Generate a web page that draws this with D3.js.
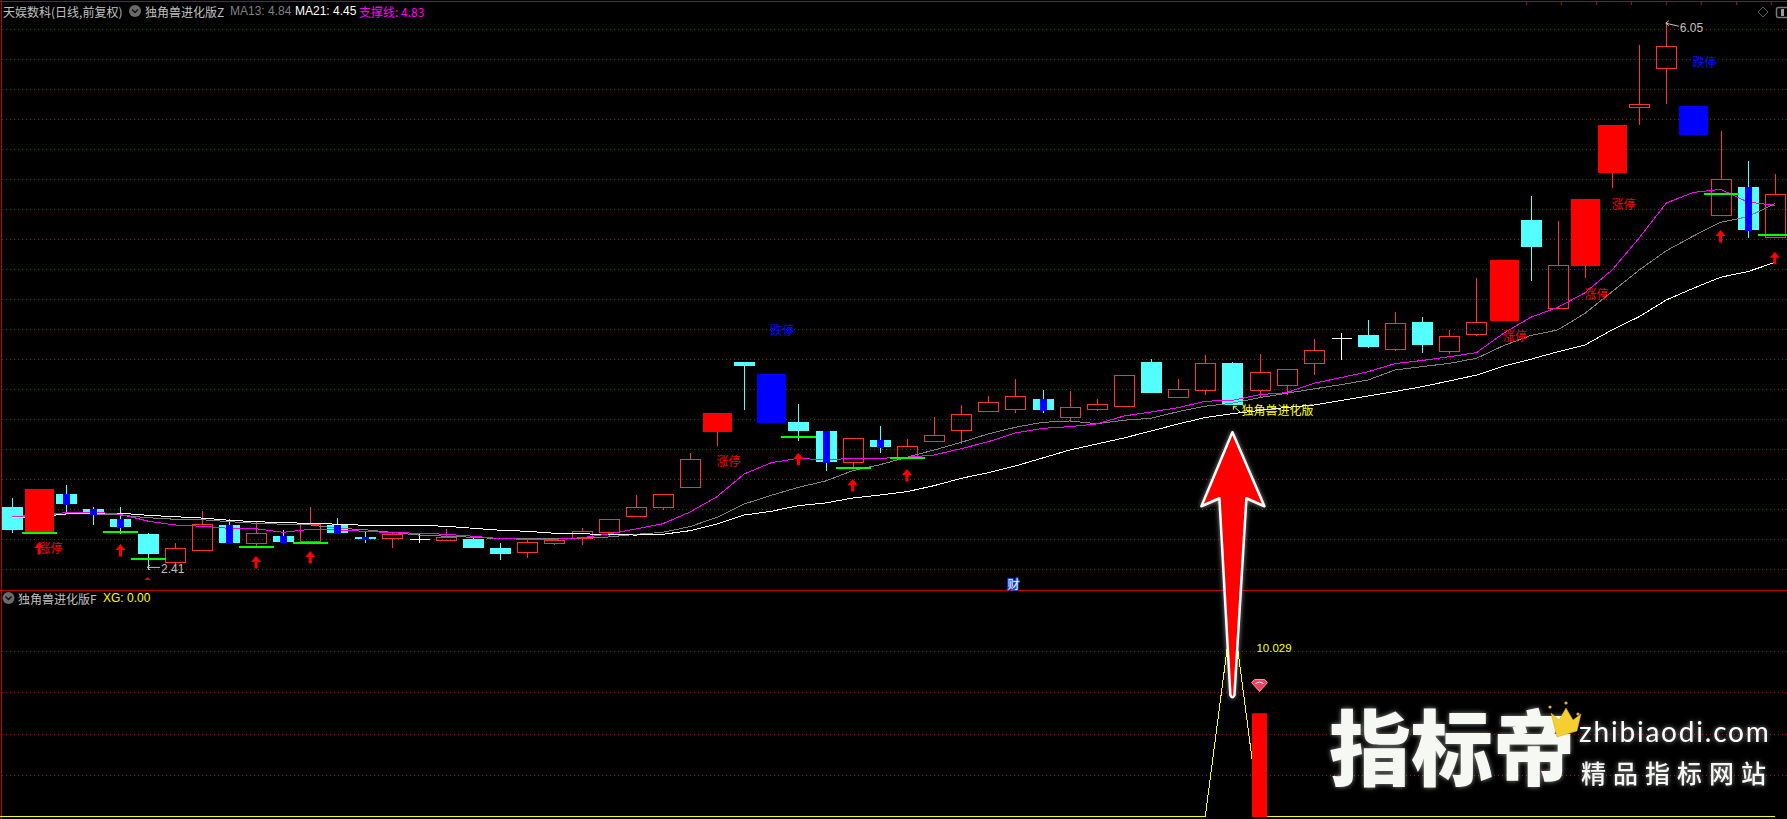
<!DOCTYPE html>
<html><head><meta charset="utf-8">
<script src="https://cdn.jsdelivr.net/npm/d3@7/dist/d3.min.js"></script>
<style>html,body{margin:0;background:#000;overflow:hidden}svg{display:block}</style>
</head><body><svg id="c" width="1787" height="819"></svg>
<script>
const opens=[2.825,2.659,2.912,2.812,2.746,2.646,2.462,2.542,2.706,2.588,2.633,2.602,2.706,2.626,2.621,2.611,2.608,2.613,2.553,2.528,2.588,2.620,2.659,2.768,2.827,2.960,3.324,3.789,3.709,3.390,3.330,3.126,3.271,3.158,3.266,3.339,3.465,3.479,3.543,3.425,3.479,3.498,3.789,3.558,3.605,3.782,3.605,3.638,3.784,3.946,3.968,3.877,4.055,3.864,3.977,4.061,4.732,4.150,4.427,5.045,5.485,5.744,5.490,4.768,4.952,4.621];
const highs=[2.885,2.945,2.972,2.825,2.825,2.653,2.584,2.797,2.746,2.726,2.673,2.825,2.752,2.659,2.651,2.646,2.679,2.626,2.586,2.606,2.608,2.686,2.744,2.905,2.910,3.184,3.450,3.789,3.709,3.510,3.330,3.284,3.364,3.277,3.421,3.503,3.563,3.676,3.603,3.596,3.543,3.700,3.807,3.676,3.835,3.789,3.842,3.740,3.942,3.982,4.068,4.121,4.088,4.002,4.347,4.467,4.892,4.726,4.872,5.364,5.895,6.05,5.490,5.322,5.124,5.038];
const lows=[2.655,2.659,2.792,2.708,2.648,2.41,2.440,2.542,2.582,2.566,2.584,2.593,2.648,2.586,2.553,2.584,2.608,2.553,2.473,2.487,2.573,2.573,2.633,2.768,2.808,2.952,3.231,3.470,3.384,3.264,3.065,3.089,3.184,3.158,3.266,3.244,3.465,3.452,3.450,3.399,3.465,3.490,3.583,3.552,3.570,3.503,3.550,3.570,3.702,3.802,3.882,3.862,3.849,3.844,3.962,4.061,4.327,4.150,4.347,4.945,5.364,5.503,5.297,4.768,4.613,4.621];
const closes=[2.673,2.945,2.843,2.779,2.691,2.513,2.551,2.712,2.586,2.651,2.591,2.711,2.653,2.611,2.646,2.611,2.626,2.553,2.513,2.591,2.606,2.664,2.744,2.823,2.910,3.142,3.450,3.762,3.384,3.330,3.124,3.284,3.224,3.229,3.302,3.441,3.521,3.561,3.470,3.488,3.508,3.700,3.583,3.607,3.780,3.503,3.720,3.740,3.867,3.946,3.889,4.046,3.902,3.960,4.053,4.467,4.553,4.431,4.872,5.364,5.503,5.887,5.297,5.003,4.666,4.903];
const support=[2.761,2.772,2.788,2.792,2.777,2.732,2.706,2.697,2.684,2.681,2.657,2.677,2.673,2.664,2.655,2.651,2.644,2.631,2.615,2.611,2.611,2.621,2.646,2.679,2.714,2.792,2.894,3.045,3.120,3.149,3.138,3.149,3.149,3.156,3.171,3.213,3.259,3.317,3.348,3.359,3.377,3.430,3.457,3.485,3.528,3.534,3.572,3.585,3.647,3.685,3.724,3.778,3.799,3.824,3.851,3.980,4.086,4.152,4.249,4.400,4.613,4.845,4.916,4.936,4.852,4.83];
const ma13=[2.752,2.772,2.779,2.779,2.772,2.754,2.744,2.741,2.728,2.717,2.711,2.706,2.684,2.675,2.657,2.639,2.631,2.624,2.615,2.613,2.613,2.620,2.626,2.644,2.657,2.695,2.757,2.845,2.903,2.956,2.998,3.067,3.106,3.156,3.204,3.255,3.311,3.355,3.388,3.397,3.379,3.402,3.415,3.459,3.495,3.515,3.552,3.581,3.610,3.638,3.669,3.736,3.758,3.780,3.813,3.898,3.965,4.002,4.112,4.256,4.400,4.528,4.626,4.717,4.754,4.84];
const ma21=[2.754,2.761,2.779,2.779,2.784,2.770,2.761,2.752,2.737,2.728,2.721,2.717,2.711,2.704,2.704,2.704,2.697,2.684,2.671,2.664,2.651,2.648,2.641,2.639,2.644,2.668,2.712,2.772,2.797,2.834,2.852,2.885,2.905,2.927,2.967,3.016,3.053,3.098,3.151,3.204,3.244,3.284,3.330,3.377,3.420,3.445,3.467,3.487,3.503,3.533,3.563,3.593,3.625,3.663,3.702,3.762,3.807,3.857,3.902,4.002,4.090,4.201,4.279,4.352,4.389,4.45];
const xg=[0,0,0,0,0,0,0,0,0,0,0,0,0,0,0,0,0,0,0,0,0,0,0,0,0,0,0,0,0,0,0,0,0,0,0,0,0,0,0,0,0,0,0,0,0,10.029,0,0,0,0,0,0,0,0,0,0,0,0,0,0,0,0,0,0,0,0];
const limitUpBars=[1,26,55,58,59];
const limitDownBars=[28,62];
const centreBars=[2,3,4,8,10,12,13,30,32,38,64];
const signalBar=[46], signalValue=[4.966];
const greenBars=[1,4,5,9,11,29,31,33,63,65];
const greenPrices=[2.655,2.659,2.480,2.562,2.588,3.292,3.087,3.149,4.905,4.633];
const arrowBars=[1,4,5,9,11,29,31,33,63,65];
const arrowPrices=[2.593,2.580,2.360,2.500,2.533,3.186,3.011,3.078,4.666,4.522];
const upLabelBars=[1,26,55,58,59];
const upLabelPrices=[2.553,3.131,3.965,4.243,4.839];
const downLabelBars=[28,62];
const downLabelPrices=[4.005,5.786];
const upText="涨停", downText="跌停", xgName="独角兽进化版";

const W=1787,H=819,svg=d3.select("#c");
const CJK='"Noto Sans CJK SC","Liberation Sans",sans-serif';
const LAT='"Liberation Sans","Noto Sans CJK SC",sans-serif';
const x=d3.scaleLinear().domain([0,65]).range([12,1774.8]);
const y=d3.scaleLinear().domain([6.05,2.41]).range([21.7,569.5]);
const yl=d3.scaleLinear().domain([0,10.029]).range([816.5,608]);
const px=i=>Math.round(x(i)), py=p=>Math.round(y(p));
const UP="#ff3232",DN="#54ffff",BL="#0000ff",RD="#ff0000";
const bars=d3.range(66).map(i=>({i,o:opens[i],h:highs[i],l:lows[i],c:closes[i]}));

svg.append("rect").attr("width",W).attr("height",H).attr("fill","#000");
// grid
const grid=svg.append("g").attr("stroke","#b00c0c").attr("stroke-dasharray","1 3").attr("shape-rendering","crispEdges");
d3.range(19).forEach(k=>grid.append("line").attr("x1",2).attr("x2",W).attr("y1",29.5+30*k).attr("y2",29.5+30*k));
d3.range(4).forEach(k=>{const gy=Math.floor(651.5+41.3*k)+.5;grid.append("line").attr("x1",2).attr("x2",W).attr("y1",gy).attr("y2",gy);});
// frame
const fr=svg.append("g").attr("stroke","#c00000").attr("shape-rendering","crispEdges");
fr.append("line").attr("x1",0).attr("x2",W).attr("y1",1.5).attr("y2",1.5);
fr.append("line").attr("x1",0).attr("x2",W).attr("y1",590.5).attr("y2",590.5);
fr.append("line").attr("x1",1.5).attr("x2",1.5).attr("y1",0).attr("y2",H);
d3.range(8).forEach(k=>fr.append("line").attr("x1",1526.5+35*k).attr("x2",1526.5+35*k).attr("y1",1).attr("y2",5));

// wicks + plain bodies
const isUpFill=i=>limitUpBars.includes(i), isDnFill=i=>limitDownBars.includes(i);
const g=svg.append("g").attr("shape-rendering","crispEdges");
bars.filter(b=>!isUpFill(b.i)&&!isDnFill(b.i)).forEach(b=>{
  const doji=b.o===b.c, up=b.c>b.o, col=doji?"#fff":(up?UP:DN), cx=px(b.i)+.5;
  const top=py(Math.max(b.o,b.c)), bot=py(Math.min(b.o,b.c));
  g.append("line").attr("x1",cx).attr("x2",cx).attr("y1",py(b.h)).attr("y2",top).attr("stroke",col);
  g.append("line").attr("x1",cx).attr("x2",cx).attr("y1",bot).attr("y2",py(b.l)).attr("stroke",col);
  if(doji) g.append("line").attr("x1",cx-10).attr("x2",cx+10).attr("y1",top+.5).attr("y2",top+.5).attr("stroke",col);
  else if(up) g.append("rect").attr("x",cx-10).attr("width",20).attr("y",top+.5).attr("height",bot-top).attr("fill","none").attr("stroke",col);
  else g.append("rect").attr("x",cx-10.5).attr("width",21).attr("y",top).attr("height",Math.max(1,bot-top)).attr("fill",col);
});
// moving lines
const line=d3.line().x((d,i)=>x(i)).y(d=>y(d));
[[ma13,"#808080",1],[ma21,"#ffffff",1],[support,"#ff00ff",1]].forEach(([d,c,w])=>svg.append("path").datum(d).attr("d",line).attr("fill","none").attr("stroke",c).attr("stroke-width",w).attr("shape-rendering","crispEdges"));
// limit bars and centres on top
const g2=svg.append("g").attr("shape-rendering","crispEdges");
bars.filter(b=>isUpFill(b.i)||isDnFill(b.i)).forEach(b=>{
  const col=isUpFill(b.i)?RD:BL, cx=px(b.i)+.5, top=py(Math.max(b.o,b.c)), bot=py(Math.min(b.o,b.c));
  g2.append("line").attr("x1",cx).attr("x2",cx).attr("y1",bot).attr("y2",py(b.l)).attr("stroke",isUpFill(b.i)?UP:BL);
  g2.append("rect").attr("x",cx-14.5).attr("width",29).attr("y",top).attr("height",bot-top).attr("fill",col);
});
centreBars.forEach(i=>{const b=bars[i],top=py(b.o),bot=py(b.c)+1;
  g2.append("rect").attr("x",px(i)-3).attr("width",7).attr("y",top).attr("height",bot-top).attr("fill",BL);});
// green marks
greenBars.forEach((i,k)=>g2.append("rect").attr("x",px(i)-17).attr("width",35).attr("y",py(greenPrices[k])-1).attr("height",2).attr("fill","#00ff00"));
// red arrows
arrowBars.forEach((i,k)=>{const tx=x(i),ty=y(arrowPrices[k]);
  if(i===5){svg.append("path").attr("d",`M${tx},${ty}l3,3h-6z`).attr("fill",RD);return;}
  svg.append("path").attr("d",`M${tx},${ty}l5,6h-3.5v6.5h-3v-6.5h-3.5z`).attr("fill",RD);
});
// labels
const cjk=(t,xx,yy,col,anchor="middle",fs=12)=>svg.append("text").attr("x",xx).attr("y",yy).attr("fill",col).attr("font-family",CJK).attr("font-size",fs).attr("text-anchor",anchor).attr("dominant-baseline","central").text(t);
upLabelBars.forEach((i,k)=>cjk(upText,x(i)+11.5,y(upLabelPrices[k]),RD));
downLabelBars.forEach((i,k)=>cjk(downText,x(i)+11,y(downLabelPrices[k]),"#0a0aff"));
// min / max marks
const note=(i,p,t,slant,dy)=>{const a=x(i)-.5,b=y(p);
  svg.append("path").attr("d",`M${a},${b}l3,-2.5M${a},${b}l3,2.5M${a},${b}l13,${slant}`).attr("fill","none").attr("stroke","#c0c0c0");
  svg.append("text").attr("x",a+14).attr("y",b+dy).attr("dominant-baseline","central").attr("fill","#c0c0c0").attr("font-family",LAT).attr("font-size",12).text(t);};
note(5,2.424,"2.41",0,1.5);
note(61,6.04,"6.05",3,4.5);
// XG label on chart
svg.append("path").attr("d",`M${x(45)+1},${y(3.495)}l7,6M${x(45)+1},${y(3.495)}h3.5M${x(45)+1},${y(3.495)}v3.5`).attr("fill","none").attr("stroke","#ffff00");
cjk(xgName,x(45)+9,y(3.475),"#ffff00","start");

// header
const head=(t,xx,yy,col)=>svg.append("text").attr("x",xx).attr("y",yy).attr("fill",col).attr("font-family",CJK).attr("font-size",12).attr("dominant-baseline","central").text(t);
const icon=(cx,cy)=>{svg.append("circle").attr("cx",cx).attr("cy",cy).attr("r",6).attr("fill","#6a6a6a");
  svg.append("path").attr("d",`M${cx-3},${cy-1.5}l3,3l3,-3`).attr("fill","none").attr("stroke","#111").attr("stroke-width",1.5);};
head("天娱数科(日线,前复权)",3,11,"#c0c0c0");
icon(135,11);
head("独角兽进化版Z",145,11,"#c0c0c0");
head("MA13: 4.84",230,11,"#808080").attr("font-family",LAT);
head("MA21: 4.45",295,11,"#ffffff").attr("font-family",LAT);
head("支撑线: 4.83",359,11,"#ff00ff");
icon(8.5,598);
head("独角兽进化版F",18,598,"#c0c0c0");
head("XG: 0.00",103,598,"#ffff00").attr("font-family",LAT);
// top right icons
svg.append("path").attr("d","M1763,7l5,5l-5,5l-5,-5z").attr("fill","none").attr("stroke","#5a5a5a");
svg.append("rect").attr("x",1776.5).attr("y",7.5).attr("width",12).attr("height",10).attr("rx",2).attr("fill","none").attr("stroke","#7a7a7a").attr("stroke-width",1.5);
svg.append("rect").attr("x",1781).attr("y",9).attr("width",3).attr("height",7).attr("fill","#9a9a9a");
// 财 badge
svg.append("text").attr("x",1013.5).attr("y",583).attr("text-anchor","middle").attr("dominant-baseline","central").attr("font-family",CJK).attr("font-size",12).attr("fill","#f0f6ff").attr("stroke","#1f50e0").attr("stroke-width",2).attr("paint-order","stroke").text("财");

// lower panel
svg.append("line").attr("x1",0).attr("x2",x(0)).attr("y1",yl(0)).attr("y2",yl(0)).attr("stroke","#ffff00").attr("shape-rendering","crispEdges");
svg.append("path").datum(xg).attr("d",d3.line().x((d,i)=>x(i)).y(d=>yl(d))).attr("fill","none").attr("stroke","#ffff00").attr("stroke-width",1).attr("shape-rendering","crispEdges");
signalBar.forEach((i,k)=>svg.append("rect").attr("x",px(i)-8).attr("width",15).attr("y",yl(signalValue[k])).attr("height",yl(0)-yl(signalValue[k])+.5).attr("fill",RD));
svg.append("text").attr("x",x(45)+24).attr("y",yl(8.1)).attr("dominant-baseline","central").attr("fill","#ffff00").attr("font-family",LAT).attr("font-size",11.5).text("10.029");
// gem
const gx=x(46),gy=yl(6.3);
svg.append("path").attr("d",`M${gx-8},${gy-3}l3,-3h10l3,3l-8,9z`).attr("fill","#f04060").attr("stroke","#ffc0c8").attr("stroke-width",.8);
svg.append("path").attr("d",`M${gx-4},${gy-2}q4,-3 8,0`).attr("fill","none").attr("stroke","#fff").attr("stroke-width",1);

// big arrow
const defs=svg.append("defs");
const ft=defs.append("filter").attr("id","glow").attr("x","-30%").attr("y","-10%").attr("width","160%").attr("height","120%");
ft.append("feDropShadow").attr("dx",0).attr("dy",0).attr("stdDeviation",2.5).attr("flood-color","#fff").attr("flood-opacity",.55);
const ax=x(45),ay=y(3.322);
svg.append("path").attr("d",`M${ax},${ay}L${ax+32},${ay+74}L${ax+14},${ay+66}L${ax+2},${ay+263}Q${ax},${ay+267} ${ax-2},${ay+263}L${ax-13},${ay+66}L${ax-31},${ay+74}Z`)
  .attr("fill",RD).attr("stroke","#fff").attr("stroke-width",2.5).attr("stroke-linejoin","round").attr("filter","url(#glow)");

// watermark
const wm=svg.append("g").attr("filter","url(#glow)");
wm.append("text").attr("x",1329).attr("y",779).attr("font-family",CJK).attr("font-weight",900).attr("font-size",82).attr("fill","#f6f8f4").text("指标帝");
wm.append("text").attr("x",1579).attr("y",742).attr("font-family",'"Lato","Open Sans",sans-serif').attr("font-size",28).attr("letter-spacing",1.8).attr("fill","#fff").text("zhibiaodi.com");
wm.append("text").attr("x",1581).attr("y",783).attr("font-family",CJK).attr("font-weight",500).attr("font-size",25).attr("letter-spacing",7).attr("fill","#f6f8f4").text("精品指标网站");
// crown
svg.append("path").attr("d","M1551,713l8,7l7,-12l7,12l8,-6l-4,17l-20,6z").attr("fill","#f5cf30").attr("stroke","#d9a520").attr("stroke-width",.5);
[[1550,707],[1566,703],[1578,714]].forEach(d=>svg.append("circle").attr("cx",d[0]).attr("cy",d[1]).attr("r",1.6).attr("fill","#e8b030"));
</script></body></html>
